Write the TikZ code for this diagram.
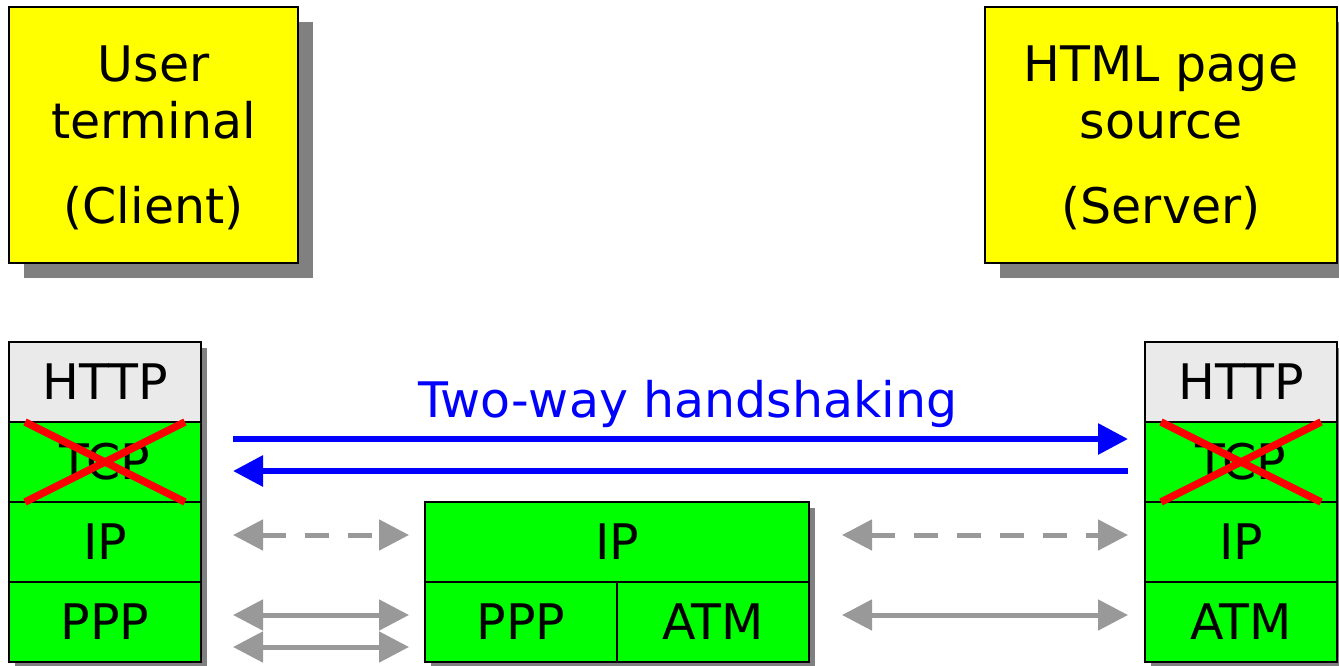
\documentclass[tikz,border=0pt]{standalone}
\usepackage{fontspec}
\setmainfont{DejaVu Sans}
\usetikzlibrary{positioning,shadows,arrows.meta}
\definecolor{boxyellow}{HTML}{FFFF00}
\definecolor{layergreen}{HTML}{00FF00}
\definecolor{httpgray}{HTML}{EAEAEA}
\definecolor{shadowgray}{HTML}{808080}
\definecolor{linkgray}{HTML}{999999}
\tikzset{
  hostbox/.style={draw, line width=1.5pt, fill=boxyellow,
    minimum height=256pt, inner sep=0pt, outer sep=0pt,
    drop shadow={shadow xshift=15pt, shadow yshift=-15pt, fill=shadowgray, opacity=1}},
  hosttext/.style={align=center, yshift=-3pt},
  layer/.style={draw, line width=1.5pt, fill=layergreen, minimum width=192pt,
    minimum height=80pt, inner sep=0pt, outer sep=0pt,
    drop shadow={shadow xshift=6pt, shadow yshift=-6pt, fill=shadowgray, opacity=1}},
  toplayer/.style={layer, fill=httpgray},
  cross/.style={red, line width=7.5pt},
  shake/.style={blue, line width=6pt, -{Triangle[length=30pt,width=30pt]}},
  link/.style={linkgray, line width=5pt,
    {Triangle[length=30pt,width=30pt]}-{Triangle[length=30pt,width=30pt]}},
}
\begin{document}
\begin{tikzpicture}[x=1pt, y=-1pt, font=\fontsize{49}{57}\selectfont]
      \useasboundingbox (0,0) rectangle (1339,665);
      %
      \node[hostbox, minimum width=289pt] (client) at (153.5,135) {};
      \node[hosttext] (clienttext) at (client) {User\\terminal\\[28pt](Client)};
      \node[hostbox, minimum width=352pt] (server) at (1161,135) {};
      \node[hosttext] (servertext) at (server) {HTML page\\source\\[28pt](Server)};
      %
      \node[toplayer] (httpL) at (105,382) {HTTP};   % client stack
      \node[layer, below=0pt of httpL] (tcpL) {TCP};
      \node[layer, below=0pt of tcpL] (ipL) {IP};
      \node[layer, below=0pt of ipL] (pppL) {PPP};
      %
      \node[layer, minimum width=384pt] (ipM) at (617,542) {IP};   % router
      \node[layer, below=0pt of ipM.south west, anchor=north west] (pppM) {PPP};
      \node[layer, below=0pt of ipM.south east, anchor=north east] (atmM) {ATM};
      %
      \node[toplayer] (httpR) at (1241,382) {HTTP};   % server stack
      \node[layer, below=0pt of httpR] (tcpR) {TCP};
      \node[layer, below=0pt of tcpR] (ipR) {IP};
      \node[layer, below=0pt of ipR] (atmR) {ATM};
      %
      \draw[cross] ([xshift=16pt]tcpL.north west) -- ([xshift=-16pt]tcpL.south east);
      \draw[cross] ([xshift=16pt]tcpL.south west) -- ([xshift=-16pt]tcpL.north east);
      \draw[cross] ([xshift=16pt]tcpR.north west) -- ([xshift=-16pt]tcpR.south east);
      \draw[cross] ([xshift=16pt]tcpR.south west) -- ([xshift=-16pt]tcpR.north east);
      %
      \node[blue, anchor=base] (shaketext) at (688,417) {Two-way handshaking};
      \draw[shake, shorten <=32pt, shorten >=17pt] ([yshift=23pt]tcpL.east) -- ([yshift=23pt]tcpR.west);
      \draw[shake, shorten <=17pt, shorten >=32pt] ([yshift=-9pt]tcpR.west) -- ([yshift=-9pt]tcpL.east);
      %
      \draw[link, dash pattern=on 24pt off 19pt, shorten <=32pt, shorten >=16pt] ([yshift=7pt]ipL.east) -- ([yshift=7pt]ipM.west);
      \draw[link, dash pattern=on 24pt off 19pt, shorten <=33pt, shorten >=17pt] ([yshift=7pt]ipM.east) -- ([yshift=7pt]ipR.west);
      \draw[link, shorten <=32pt, shorten >=16pt] ([yshift=7pt]pppL.east) -- ([yshift=7pt]pppM.west);
      \draw[link, shorten <=32pt, shorten >=16pt] ([yshift=-25pt]pppL.east) -- ([yshift=-25pt]pppM.west);
      \draw[link, shorten <=33pt, shorten >=17pt] ([yshift=7pt]atmM.east) -- ([yshift=7pt]atmR.west);
      %
    \end{tikzpicture}
\end{document}
